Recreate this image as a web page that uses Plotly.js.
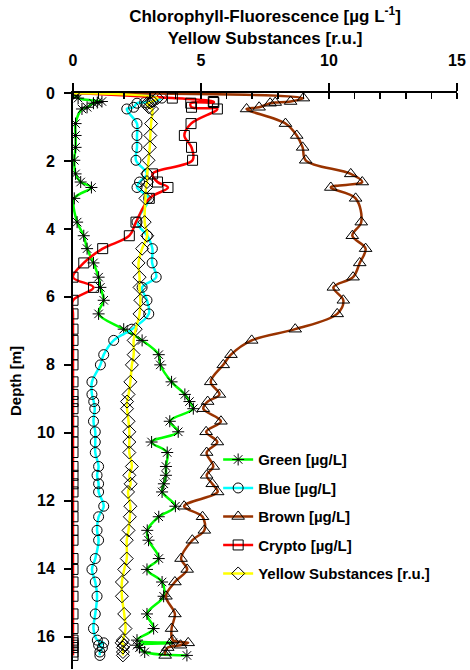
<!DOCTYPE html>
<html><head><meta charset="utf-8">
<script src="https://cdn.plot.ly/plotly-3.0.1.min.js"></script>
<style>html,body{margin:0;padding:0;background:#fff;} #chart{width:470px;height:670px;}</style>
</head><body><div id="chart"></div>
<script>
const depth = [0, 0.15, 0.25, 0.28, 0.3, 0.42, 0.47, 0.9, 1.25, 1.6, 1.98, 2.38, 2.62, 2.78, 3.1, 3.8, 4.2, 4.58, 5.0, 5.42, 5.72, 6.1, 6.5, 6.95, 7.28, 7.7, 8.0, 8.5, 8.87, 9.08, 9.29, 9.66, 9.97, 10.27, 10.58, 10.99, 11.25, 11.5, 11.74, 12.16, 12.47, 12.87, 13.16, 13.7, 14.02, 14.39, 14.81, 15.33, 15.76, 16.1, 16.18, 16.25, 16.32, 16.45, 16.55];
const green = [0, 0.2, 1.13, 0.95, 0.8, 0.55, 0.35, 0.1, 0.1, 0.1, 0.05, 0.1, 0.3, 0.72, 0.05, 0.16, 0.42, 0.55, 0.8, 1.0, 1.07, 1.2, 1.0, 1.98, 2.7, 3.35, 3.41, 3.85, 4.37, 4.55, 4.7, 3.78, 4.11, 3.07, 3.68, 3.63, 3.63, 3.55, 3.48, 4.0, 3.35, 2.9, 2.95, 3.35, 2.89, 3.48, 3.54, 2.89, 3.15, 2.5, 3.9, 2.5, 2.6, 2.8, 4.45];
const blue = [0, 3.47, 3.1, 2.8, 2.5, 2.37, 2.1, 2.5, 2.5, 2.5, 2.46, 2.89, 2.6, 2.5, 2.96, 2.5, 2.9, 3.1, 3.09, 3.25, 2.7, 2.89, 2.96, 2.3, 1.59, 1.2, 1.07, 0.74, 0.74, 0.81, 0.85, 0.8, 0.87, 0.87, 0.87, 1.0, 0.94, 1.0, 1.0, 1.2, 1.0, 0.94, 1.0, 0.87, 0.74, 0.87, 0.94, 0.87, 0.8, 0.95, 1.2, 1.0, 1.15, 1.05, 1.05];
const brown = [0, 9.0, 8.5, 7.9, 7.7, 7.27, 6.78, 8.3, 8.74, 8.97, 9.09, 10.85, 11.3, 10.07, 11.04, 11.26, 10.91, 11.43, 11.2, 10.94, 10.17, 10.56, 10.32, 8.68, 6.98, 6.17, 5.87, 5.38, 5.72, 5.26, 5.09, 5.78, 5.2, 5.64, 5.22, 5.48, 5.22, 5.44, 5.65, 4.34, 5.06, 5.13, 4.66, 4.22, 4.46, 3.98, 3.63, 3.98, 3.85, 3.9, 4.5, 4.2, 3.7, 3.6, 3.6];
const crypto = [0, 3.88, 5.48, 5.5, 4.6, 4.63, 5.64, 4.61, 4.35, 4.63, 4.67, 3.11, 3.3, 3.71, 2.98, 2.46, 2.2, 1.16, 0.42, 0.0, 0.8, 0, 0, 0, 0, 0, 0, 0, 0, 0, 0, 0, 0, 0, 0, 0, 0, 0, 0, 0, 0, 0, 0, 0, 0, 0, 0, 0, 0, 0, 0, 0, 0, 0, 0];
const yellow = [0, 3.3, 3.1, 3.0, 2.9, 2.96, 3.09, 3.05, 3.02, 3.0, 2.95, 2.9, 2.89, 2.85, 2.83, 2.8, 2.9, 2.7, 2.56, 2.6, 2.6, 2.63, 2.6, 2.45, 2.37, 2.37, 2.3, 2.24, 2.17, 2.11, 2.11, 2.17, 2.2, 2.2, 2.2, 2.3, 2.2, 2.25, 2.15, 2.24, 2.22, 2.17, 2.1, 2.1, 2.0, 1.91, 1.91, 2.0, 2.05, 1.95, 1.9, 2.0, 1.95, 1.95, 1.95];

const seriesNames = ['Green [µg/L]', 'Blue [µg/L]', 'Brown [µg/L]', 'Crypto [µg/L]', 'Yellow Substances [r.u.]'];
const seriesData = [green, blue, brown, crypto, yellow];
const lineColors = ['#00ff00', '#00ffff', '#993300', '#ff0000', '#ffff00'];
const symbols = ['asterisk-open', 'circle-open', 'triangle-up-open', 'square-open', 'diamond-open'];
const sizes = [10, 10, 11, 10, 10];

const traces = seriesData.map((vals, i) => ({
  type: 'scatter',
  mode: 'lines+markers',
  x: vals,
  y: depth,
  name: seriesNames[i],
  legendgroup: 'g' + i,
  line: {color: lineColors[i], width: 2.5, shape: 'spline', smoothing: 1},
  marker: {symbol: symbols[i], size: sizes[i], color: '#000', line: {color: '#000', width: 1}}
}));

const ff = 'Liberation Sans, Arial, sans-serif';
const layout = {
  width: 470, height: 670,
  margin: {l: 73, r: 13, t: 93, b: 1},
  paper_bgcolor: '#fff', plot_bgcolor: '#fff',
  showlegend: true,
  font: {family: ff, color: '#000'},
  title: {
    text: 'Chlorophyll-Fluorescence [µg L<sup>-1</sup>]<br>Yellow Substances [r.u.]',
    font: {family: ff, size: 17, weight: 'bold', color: '#000'},
    x: 0.5, xref: 'paper', xanchor: 'center',
    y: 0.967, yref: 'container', yanchor: 'top'
  },
  xaxis: {
    side: 'top', range: [0, 15], dtick: 5, tick0: 0,
    showgrid: false, zeroline: false,
    showline: true, linecolor: '#000', linewidth: 2,
    ticks: 'outside', ticklen: 8, tickwidth: 2, tickcolor: '#000',
    ticklabelstandoff: 11,
    tickfont: {family: ff, size: 16, weight: 'bold', color: '#000'},
    minor: {dtick: 1, ticks: 'inside', ticklen: 6, tickwidth: 1.5, tickcolor: '#000', showgrid: false}
  },
  xaxis2: {
    overlaying: 'x', side: 'top', anchor: 'y', range: [0, 15], dtick: 5, tick0: 0,
    showgrid: false, zeroline: false, showline: false,
    ticks: 'inside', ticklen: 7, tickwidth: 2, tickcolor: '#000', showticklabels: false
  },
  yaxis: {
    range: [16.95, 0], dtick: 2, tick0: 0,
    showgrid: false, zeroline: false,
    showline: true, linecolor: '#000', linewidth: 2,
    ticks: 'outside', ticklen: 7, tickwidth: 2, tickcolor: '#000',
    ticklabelstandoff: 6,
    tickfont: {family: ff, size: 16, weight: 'bold', color: '#000'},
    title: {text: 'Depth [m]', font: {family: ff, size: 15, weight: 'bold', color: '#000'}, standoff: 12}
  },
  legend: {
    x: 0.378, y: 0.392, xanchor: 'left', yanchor: 'top',
    bgcolor: 'rgba(0,0,0,0)', borderwidth: 0,
    tracegroupgap: 6,
    font: {family: ff, size: 15, weight: 'bold', color: '#000'}
  }
};

Plotly.newPlot('chart', traces, layout, {staticPlot: true, displayModeBar: false});
</script>
</body></html>
